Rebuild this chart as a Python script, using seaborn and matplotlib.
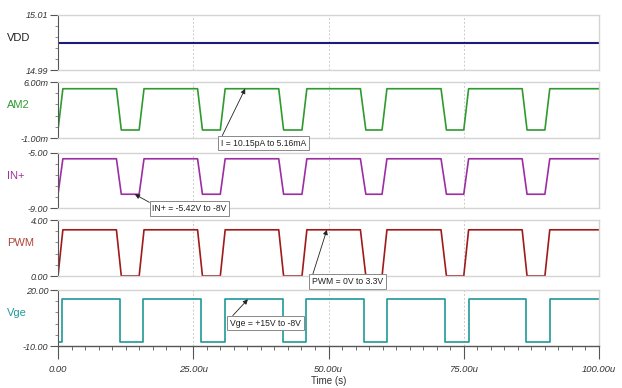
import pandas as pd
import seaborn as sns
import matplotlib.pyplot as plt
from matplotlib.ticker import MultipleLocator, AutoMinorLocator

# edge times (us)
trap_fall_start = [10.8, 25.8, 40.8, 55.9, 70.8, 85.8]
trap_fall_end = [11.7, 26.7, 41.7, 56.9, 71.8, 86.7]
trap_rise_start = [15.0, 30.0, 45.1, 59.9, 75.0, 90.0]
trap_rise_end = [15.9, 30.9, 46.0, 60.8, 75.9, 90.9]
vge_fall = [11.5, 26.5, 41.6, 56.6, 71.5, 86.5]
vge_rise = [15.8, 30.8, 45.8, 60.8, 76.0, 90.9]
t_start_rise = 0.9
vge_start_low = 0.7
t_end = 100.0

# signal levels
vdd_level = 15.0
am2_low, am2_high = 10.15e-12, 5.16e-3
inp_low, inp_high = -8.0, -5.42
pwm_low, pwm_high = 0.0, 3.3
vge_low, vge_high = -8.0, 15.0

names = ["VDD", "AM2", "IN+", "PWM", "Vge"]
line_colors = ["#1c1c78", "#2f9a2f", "#9c2ea2", "#a01a1a", "#1f9898"]
label_colors = ["#222222", "#2f9a2f", "#a0309e", "#b04438", "#1f9a9a"]
ylims = [(14.99, 15.01), (-1e-3, 6e-3), (-9.0, -5.0), (0.0, 4.0), (-10.0, 20.0)]
ytick_labels = [("14.99", "15.01"), ("-1.00m", "6.00m"), ("-9.00", "-5.00"),
                ("0.00", "4.00"), ("-10.00", "20.00")]
xtick_vals = [0, 25, 50, 75, 100]
xtick_labels = ["0.00", "25.00u", "50.00u", "75.00u", "100.00u"]

# panel extents in pixels (top, bottom)
panel_px = [(15, 70), (82, 138), (153, 208), (220, 276), (290, 346)]


def trapezoid(low, high):
    t, v = [0.0, t_start_rise], [low, high]
    for a, b, c, d in zip(trap_fall_start, trap_fall_end, trap_rise_start, trap_rise_end):
        t += [a, b, c, d]
        v += [high, low, low, high]
    t.append(t_end)
    v.append(high)
    return pd.DataFrame({"t": t, "v": v})


def square(low, high):
    t, v = [0.0, vge_start_low, vge_start_low], [low, low, high]
    for a, b in zip(vge_fall, vge_rise):
        t += [a, a, b, b]
        v += [high, low, low, high]
    t.append(t_end)
    v.append(high)
    return pd.DataFrame({"t": t, "v": v})


signals = [
    pd.DataFrame({"t": [0.0, t_end], "v": [vdd_level, vdd_level]}),
    trapezoid(am2_low, am2_high),
    trapezoid(inp_low, inp_high),
    trapezoid(pwm_low, pwm_high),
    square(vge_low, vge_high),
]

sns.set_style("white")
plt.rcParams["font.family"] = ["Liberation Sans Narrow", "Liberation Sans", "DejaVu Sans"]

W, H = 622, 388
fig = plt.figure(figsize=(W / 100, H / 100), dpi=100)
x0, x1 = 58, 599
axes = []
for i, (top, bot) in enumerate(panel_px):
    ax = fig.add_axes([x0 / W, 1 - bot / H, (x1 - x0) / W, (bot - top) / H])
    axes.append(ax)
    sns.lineplot(data=signals[i], x="t", y="v", ax=ax, estimator=None, sort=False,
                 color=line_colors[i], linewidth=1.2 if i else 1.5)
    ax.set_xlim(0, 100)
    ax.set_ylim(*ylims[i])
    ax.set_yticks(list(ylims[i]))
    ax.set_yticklabels(ytick_labels[i], fontsize=6.5, style="italic", color="#333333")
    ax.yaxis.set_minor_locator(AutoMinorLocator(5))
    ax.tick_params(axis="y", which="major", length=6, width=0.8, color="#555555", pad=1, left=True)
    ax.tick_params(axis="y", which="minor", length=2, width=0.6, color="#777777", left=True)
    for x in [25, 50, 75]:
        ax.axvline(x, color="#cccccc", linestyle=(0, (2, 2)), linewidth=0.7, zorder=0)
    for s in ["top", "right", "bottom"]:
        ax.spines[s].set_color("#d4d4d4")
        ax.spines[s].set_linewidth(1.0)
    ax.spines["left"].set_color("#555555")
    ax.spines["left"].set_linewidth(0.8)
    ax.set_xlabel("")
    ax.set_ylabel("")
    fig.text(7 / W, 1 - (top + bot) / 2 / H + 0.012, names[i], color=label_colors[i],
             fontsize=8, ha="left", va="center")
    if i < len(panel_px) - 1:
        ax.set_xticks([])

bx = axes[-1]
bx.spines["bottom"].set_color("#555555")
bx.set_xticks(xtick_vals)
bx.set_xticklabels(xtick_labels, fontsize=6.8, style="italic", color="#333333")
bx.xaxis.set_minor_locator(MultipleLocator(2.5))
bx.tick_params(axis="x", which="major", length=9, width=0.8, color="#555555", pad=5, bottom=True)
bx.tick_params(axis="x", which="minor", length=3, width=0.6, color="#555555", bottom=True)
fig.text((x0 + x1) / 2 / W, 1 - 381 / H, "Time (s)", fontsize=7, ha="center",
         va="center", color="#333333")

# annotations: (panel, tip x, tip y, text, box center px)
notes = [
    (1, 34.6, am2_high, "I = 10.15pA to 5.16mA", (263.5, 143)),
    (2, 14.2, inp_low, "IN+ = -5.42V to -8V", (189.5, 208.5)),
    (3, 49.7, pwm_high, "PWM = 0V to 3.3V", (347.5, 281.5)),
    (4, 35.1, vge_high, "Vge = +15V to -8V", (265.5, 323)),
]
for idx, tx, ty, txt, (cx, cy) in notes:
    axes[idx].annotate(
        txt, xy=(tx, ty), xycoords="data",
        xytext=(cx / W, 1 - cy / H), textcoords="figure fraction",
        fontsize=6.2, ha="center", va="center", color="#222222", annotation_clip=False,
        bbox=dict(boxstyle="square,pad=0.3", fc="white", ec="#888888", lw=0.7),
        arrowprops=dict(arrowstyle="-|>", color="#222222", lw=0.6,
                        mutation_scale=7, relpos=(0, 1), shrinkA=0, shrinkB=0),
        zorder=10,
    )

fig.savefig("out.png", dpi=100)
